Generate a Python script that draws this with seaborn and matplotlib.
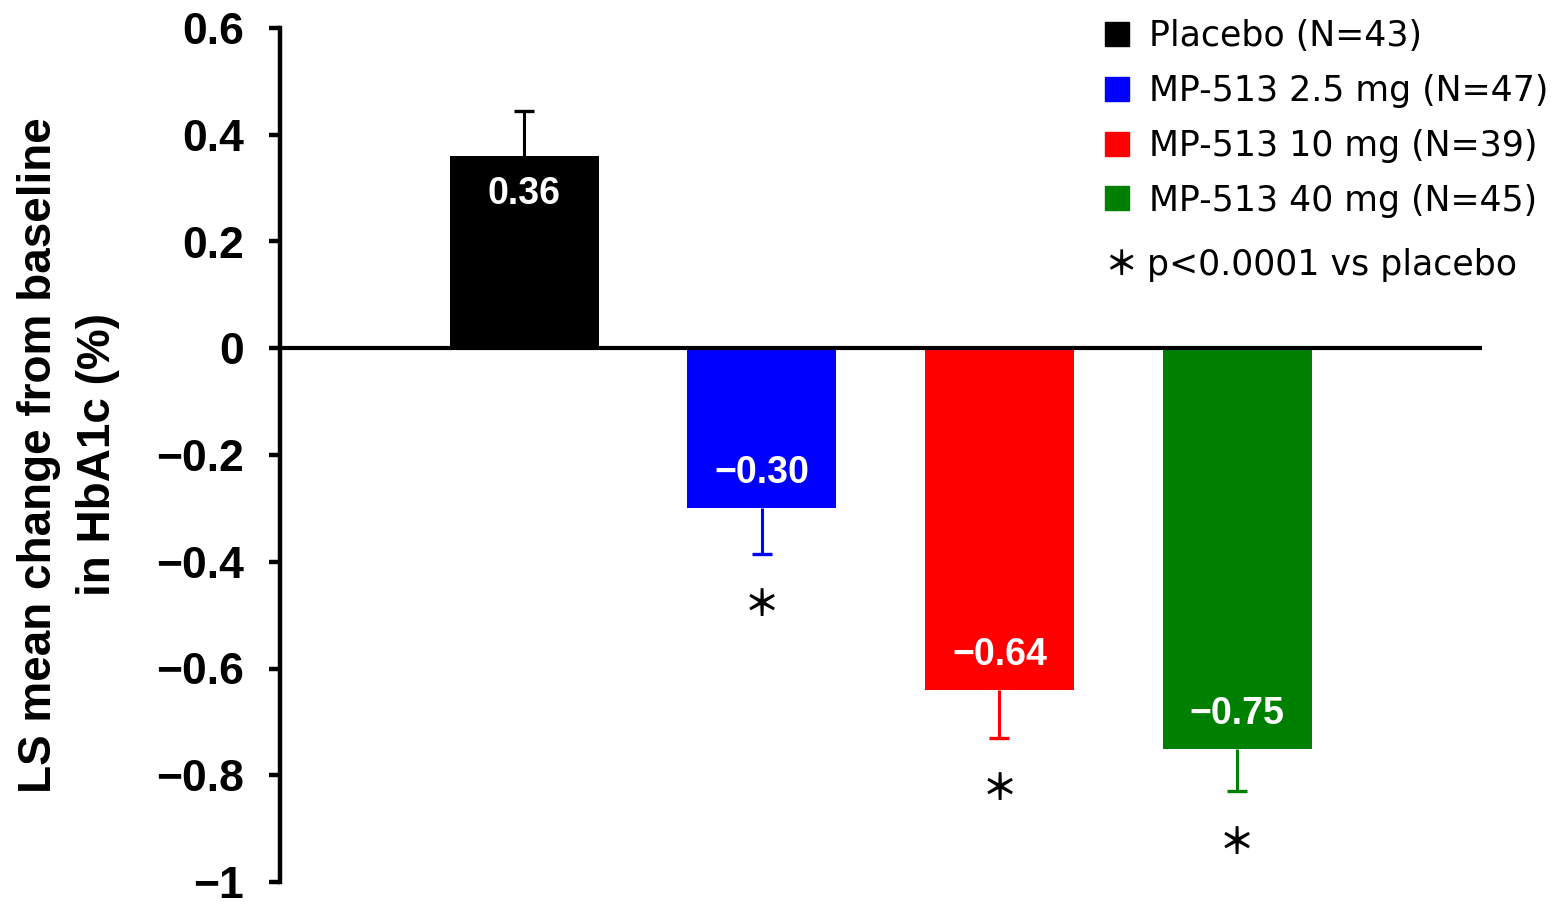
import matplotlib
matplotlib.use("Agg")
import matplotlib.pyplot as plt
from matplotlib.lines import Line2D
import seaborn as sns
import pandas as pd

# LS mean change from baseline in HbA1c (%) with standard errors
groups = ["Placebo", "MP-513 2.5 mg", "MP-513 10 mg", "MP-513 40 mg"]
legend_labels = ["Placebo (N=43)", "MP-513 2.5 mg (N=47)",
                 "MP-513 10 mg (N=39)", "MP-513 40 mg (N=45)"]
ls_mean = [0.36, -0.30, -0.64, -0.75]
std_err = [0.085, 0.085, 0.09, 0.08]
significant = [False, True, True, True]
colors = ["#000000", "#0000FF", "#FF0000", "#008000"]
y_ticks = [0.6, 0.4, 0.2, 0, -0.2, -0.4, -0.6, -0.8, -1]
y_tick_labels = ["0.6", "0.4", "0.2", "0", "\u22120.2", "\u22120.4",
                 "\u22120.6", "\u22120.8", "\u22121"]

sns.set_theme(style="white")
plt.rcParams["font.family"] = ["Liberation Sans", "DejaVu Sans"]
plt.rcParams["text.color"] = "black"
plt.rcParams["axes.labelcolor"] = "black"
plt.rcParams["ytick.color"] = "black"
plt.rcParams["xtick.color"] = "black"
cjk = ["Noto Sans CJK JP", "DejaVu Sans"]
legend_font = ["DejaVu Sans", "Noto Sans CJK JP"]

df = pd.DataFrame({"group": groups, "value": ls_mean})

fig = plt.figure(figsize=(15.56, 9.05), dpi=100)
ax = fig.add_axes([280 / 1556, 1 - 882 / 905, 1202 / 1556, 854 / 905])

sns.barplot(data=df, x="group", y="value", hue="group", palette=colors,
            width=0.627, legend=False, ax=ax, saturation=1,
            edgecolor="none")

# one-sided error bars in the direction of each bar, capped at the far end
for i, (v, e, c) in enumerate(zip(ls_mean, std_err, colors)):
    lower = [0] if v > 0 else [e]
    upper = [e] if v > 0 else [0]
    tip = v + e if v > 0 else v - e
    ax.errorbar(i, v, yerr=[lower, upper], fmt="none", ecolor=c,
                elinewidth=2.2, capsize=0, zorder=3)
    ax.plot([i], [tip], marker="_", markersize=15, markeredgewidth=2.4,
            color=c, linestyle="none", zorder=3)
    # value label inside the bar end
    off = -38 if v > 0 else 35
    label = f"{v:.2f}".replace("-", "\u2212")
    ax.annotate(label, (i, v), xytext=(0, off), textcoords="offset pixels",
                ha="center", va="center", color="white", fontsize=27,
                fontweight="bold")
    if significant[i]:
        ax.annotate("\uff0a", (i, tip), xytext=(0, -52),
                    textcoords="offset pixels", ha="center", va="center",
                    fontsize=26, family=cjk, fontweight="bold",
                    color="black")

ax.axhline(0, color="black", linewidth=3, zorder=4)

ax.set_ylim(-1, 0.6)
ax.set_xlim(-1.027, 4.03)
ax.set_yticks(y_ticks)
ax.set_yticklabels(y_tick_labels, fontsize=32, fontweight="bold")
ax.set_xticks([])
ax.set_xlabel("")
ax.set_ylabel("LS mean change from baseline\nin HbA1c (%)", fontsize=33,
              fontweight="bold", labelpad=26, linespacing=1.45)

for side in ["top", "right", "bottom"]:
    ax.spines[side].set_visible(False)
ax.spines["left"].set_linewidth(3.2)
ax.spines["left"].set_color("black")
ax.tick_params(axis="y", direction="out", length=8, width=3.2,
               color="black", pad=18, left=True)

handles = [Line2D([0], [0], marker="s", linestyle="none", markersize=17,
                  markerfacecolor=c, markeredgecolor=c) for c in colors]
leg = fig.legend(handles, legend_labels, loc="upper left",
                 bbox_to_anchor=(1100 / 1556, 1 - 19 / 905), frameon=False,
                 prop={"family": legend_font, "size": 25},
                 handletextpad=0.4, labelspacing=0.6, handlelength=1.0,
                 borderaxespad=0, borderpad=0)

fig.text(1104 / 1556, 1 - 265 / 905, "\uff0a", family=cjk,
         fontweight="bold", fontsize=24, va="center", ha="left")
fig.text(1147 / 1556, 1 - 265 / 905, "p<0.0001 vs placebo",
         family=legend_font, fontsize=25, va="center", ha="left")

fig.savefig("out.png", dpi=100)
